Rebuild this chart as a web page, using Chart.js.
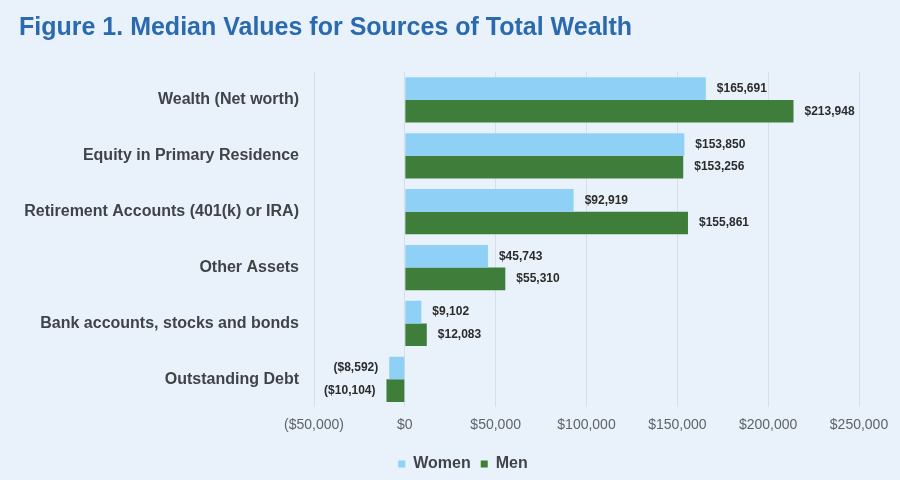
<!DOCTYPE html>
<html>
<head>
<meta charset="utf-8">
<script src="https://cdn.jsdelivr.net/npm/chart.js@4.4.0/dist/chart.umd.min.js"></script>
<style>
  html, body { margin: 0; padding: 0; background: #e9f2fa; }
  #wrap { width: 900px; height: 480px; position: relative; }
</style>
</head>
<body>
<div id="wrap"><canvas id="c"></canvas></div>
<script>
const categories = [
  "Wealth (Net worth)",
  "Equity in Primary Residence",
  "Retirement Accounts (401(k) or IRA)",
  "Other Assets",
  "Bank accounts, stocks and bonds",
  "Outstanding Debt"
];
const women = [165691, 153850, 92919, 45743, 9102, -8592];
const men = [213948, 153256, 155861, 55310, 12083, -10104];
const xTicks = [-50000, 0, 50000, 100000, 150000, 200000, 250000];

function money(v) {
  const s = '$' + Math.abs(v).toLocaleString('en-US');
  return v < 0 ? '(' + s + ')' : s;
}

const FONT = '"Liberation Sans", Arial, Helvetica, sans-serif';

const valueLabels = {
  id: 'valueLabels',
  afterDatasetsDraw(chart) {
    const ctx = chart.ctx;
    ctx.save();
    ctx.font = 'bold 12px ' + FONT;
    ctx.fillStyle = '#2b2b2b';
    ctx.textBaseline = 'middle';
    chart.data.datasets.forEach((ds, i) => {
      const meta = chart.getDatasetMeta(i);
      meta.data.forEach((el, j) => {
        const v = ds.data[j];
        if (v >= 0) {
          ctx.textAlign = 'left';
          ctx.fillText(money(v), el.x + 11, el.y);
        } else {
          ctx.textAlign = 'right';
          ctx.fillText(money(v), el.x - 11, el.y);
        }
      });
    });
    ctx.restore();
  }
};

const shiftLegend = {
  id: 'shiftLegend',
  afterLayout(chart) {
    const l = chart.legend;
    if (l) { l.left += 24; l.right += 24; l.top += 2; l.bottom += 2; }
  }
};

new Chart(document.getElementById('c'), {
  type: 'bar',
  data: {
    labels: categories,
    datasets: [
      { label: 'Women', data: women, backgroundColor: '#8fd1f6', borderWidth: 0 },
      { label: 'Men', data: men, backgroundColor: '#3f7d3a', borderWidth: 0 }
    ]
  },
  options: {
    indexAxis: 'y',
    responsive: true,
    maintainAspectRatio: false,
    animation: false,
    layout: { padding: { left: 19, right: 41, bottom: 0 } },
    datasets: { bar: { categoryPercentage: 0.81, barPercentage: 1.0 } },
    scales: {
      x: {
        min: -50000,
        max: 250000,
        afterBuildTicks(scale) { scale.ticks = xTicks.map(v => ({ value: v })); },
        ticks: {
          callback: v => money(v),
          font: { family: FONT, size: 14 },
          color: '#5f6368',
          padding: 10,
          maxRotation: 0
        },
        grid: { color: '#d6dee6', lineWidth: 1, drawTicks: false },
        border: { display: false }
      },
      y: {
        afterFit(scale) { scale.width = 295; },
        ticks: {
          font: { family: FONT, size: 16, weight: 'bold' },
          color: '#404448',
          padding: 15
        },
        grid: { display: false, drawTicks: false },
        border: { display: false }
      }
    },
    plugins: {
      title: {
        display: true,
        text: 'Figure 1. Median Values for Sources of Total Wealth',
        align: 'start',
        color: '#2b6aae',
        font: { family: FONT, size: 25, weight: 'bold' },
        padding: { top: 13, bottom: 29 }
      },
      legend: {
        position: 'bottom',
        labels: {
          boxWidth: 7,
          boxHeight: 7,
          padding: 10,
          color: '#404448',
          font: { family: FONT, size: 16, weight: 'bold' }
        }
      },
      tooltip: { enabled: false }
    }
  },
  plugins: [valueLabels, shiftLegend]
});
</script>
</body>
</html>
